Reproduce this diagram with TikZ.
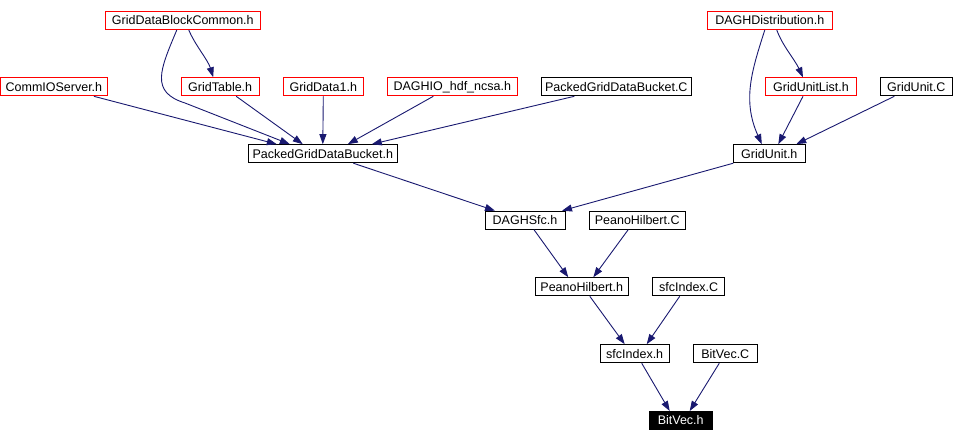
\documentclass[tikz,border=0pt]{standalone}
\usepackage{fontspec}
\setmainfont{Liberation Sans}
\usepackage{tikz}
\usetikzlibrary{arrows.meta, positioning}

\definecolor{edgeblue}{RGB}{25,25,112}

\begin{document}
\begin{tikzpicture}[
  x=1pt, y=-1pt,
  font=\fontsize{12.5}{14}\selectfont,
  filebox/.style={draw=black, line width=1pt, minimum height=18pt, inner sep=0pt, fill=white},
  extbox/.style={filebox, draw=red},
  rootbox/.style={filebox, fill=black, text=white},
  arr/.style={-{Triangle[length=10pt, width=7pt]}, draw=edgeblue, line width=0.9pt}
]
\useasboundingbox (0,0) rectangle (954,442);

% top rows
\node[extbox, minimum width=155pt] (gdbc) at (182.8,20.5) {GridDataBlockCommon.h};
\node[extbox, minimum width=125pt] (daghdist) at (769.8,20.5) {DAGHDistribution.h};
\node[extbox, minimum width=107pt] (commio) at (53.9,86.8) {CommIOServer.h};
\node[extbox, minimum width=78pt] (gridtable) at (220.2,86.8) {GridTable.h};
\node[extbox, minimum width=80pt] (griddata1) at (323.3,86.8) {GridData1.h};
\node[extbox, minimum width=130pt] (daghio) at (452.3,86.8) {DAGHIO\_hdf\_ncsa.h};
\node[filebox, minimum width=150pt] (pgdbc) at (616.3,86.8) {PackedGridDataBucket.C};
\node[extbox, minimum width=91pt] (gridunitlist) at (811,86.8) {GridUnitList.h};
\node[filebox, minimum width=72pt] (gridunitc) at (916.3,86.8) {GridUnit.C};

% middle rows
\node[filebox, minimum width=149pt] (pgdbh) at (322.8,153.7) {PackedGridDataBucket.h};
\node[filebox, minimum width=72pt] (gridunith) at (769.3,153.7) {GridUnit.h};
\node[filebox, minimum width=80pt] (daghsfc) at (525,220.2) {DAGHSfc.h};
\node[filebox, minimum width=96pt] (peanoc) at (637.2,220.2) {PeanoHilbert.C};
\node[filebox, minimum width=93pt] (peanoh) at (581.8,286.8) {PeanoHilbert.h};
\node[filebox, minimum width=72pt] (sfcc) at (688.7,286.8) {sfcIndex.C};
\node[filebox, minimum width=69pt] (sfch) at (634.7,353.7) {sfcIndex.h};
\node[filebox, minimum width=64pt] (bitvecc) at (725.3,353.7) {BitVec.C};
\node[rootbox, minimum width=63pt] (bitvech) at (680.7,420.5) {BitVec.h};

% edges into PackedGridDataBucket.h
\draw[arr] ([xshift=6]gdbc.south) .. controls (195,45) and (208,60) .. ([xshift=-7]gridtable.north);
\draw[arr] ([xshift=-6]gdbc.south) .. controls (160,70) and (150,92) .. (185,103) -- ([xshift=-33]pgdbh.north);
\draw[arr] ([xshift=40]commio.south) -- ([xshift=-46]pgdbh.north);
\draw[arr] ([xshift=16]gridtable.south) -- ([xshift=-20]pgdbh.north);
\draw[arr] (griddata1.south) -- (pgdbh.north);
\draw[arr] ([xshift=-19]daghio.south) -- ([xshift=25]pgdbh.north);
\draw[arr] ([xshift=-42]pgdbc.south) -- ([xshift=49]pgdbh.north);

% edges into GridUnit.h
\draw[arr] ([xshift=7]daghdist.south) .. controls (782,45) and (795,60) .. ([xshift=-8]gridunitlist.north);
\draw[arr] ([xshift=-5]daghdist.south) .. controls (752,70) and (742,100) .. ([xshift=-7.5]gridunith.north);
\draw[arr] ([xshift=-8]gridunitlist.south) -- ([xshift=9]gridunith.north);
\draw[arr] ([xshift=-22]gridunitc.south) -- ([xshift=27]gridunith.north);

% lower chain
\draw[arr] ([xshift=30.5]pgdbh.south) -- ([xshift=-30]daghsfc.north);
\draw[arr] ([xshift=-36]gridunith.south) -- ([xshift=37]daghsfc.north);
\draw[arr] ([xshift=9]daghsfc.south) -- ([xshift=-13.5]peanoh.north);
\draw[arr] ([xshift=-9]peanoc.south) -- ([xshift=11.5]peanoh.north);
\draw[arr] ([xshift=8]peanoh.south) -- ([xshift=-10]sfch.north);
\draw[arr] ([xshift=-9]sfcc.south) -- ([xshift=12]sfch.north);
\draw[arr] ([xshift=7]sfch.south) -- ([xshift=-11]bitvech.north);
\draw[arr] ([xshift=-6]bitvecc.south) -- ([xshift=9]bitvech.north);
\end{tikzpicture}
\end{document}
